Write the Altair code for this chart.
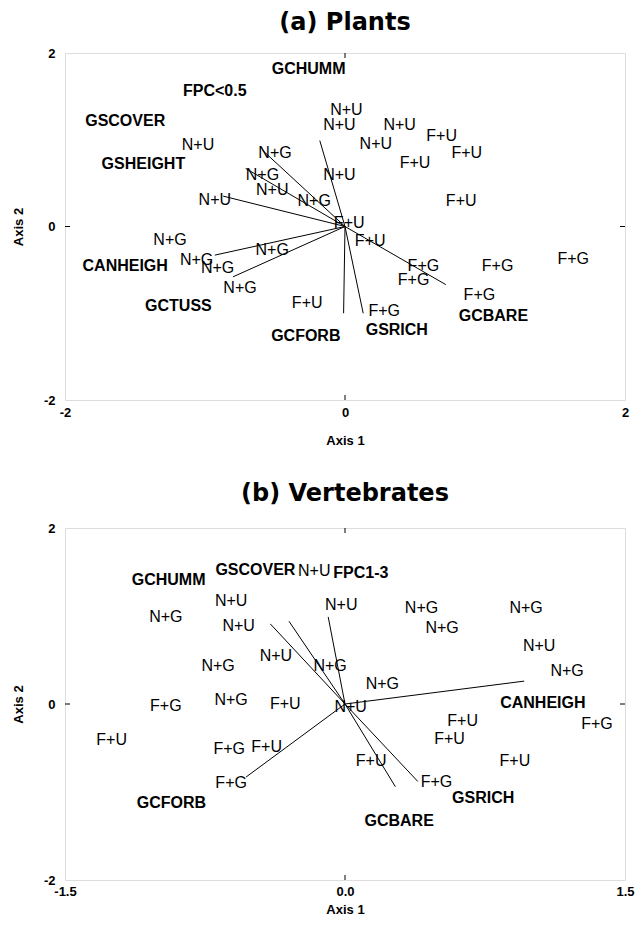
import altair as alt
import pandas as pd

# ---------------- (a) Plants ----------------
a_site_label = ["N+U", "N+U", "N+U", "N+U", "N+U", "F+U", "F+U", "F+U", "N+U", "F+U",
                "N+G", "N+G", "N+U", "N+U", "N+G", "F+U", "N+G", "N+G", "N+G", "N+G",
                "N+G", "F+U", "F+U", "F+G", "F+G", "F+G", "F+G", "F+G", "F+G"]
a_site_x = [-1.05, 0.01, -0.04, 0.39, 0.22, 0.69, 0.87, 0.50, -0.04, 0.83,
            -0.50, -0.59, -0.52, -0.93, -0.22, 0.03, -1.25, -1.06, -0.91, -0.52,
            -0.75, -0.27, 0.18, 0.56, 0.49, 1.09, 1.63, 0.96, 0.28]
a_site_y = [0.94, 1.34, 1.17, 1.17, 0.95, 1.04, 0.85, 0.73, 0.59, 0.29,
            0.85, 0.59, 0.42, 0.31, 0.29, 0.04, -0.16, -0.39, -0.48, -0.27,
            -0.71, -0.88, -0.17, -0.46, -0.62, -0.46, -0.37, -0.79, -0.97]

a_var_label = ["GCHUMM", "FPC<0.5", "GSCOVER", "GSHEIGHT", "CANHEIGH",
               "GCTUSS", "GCFORB", "GSRICH", "GCBARE"]
a_var_x = [-0.26, -0.93, -1.57, -1.44, -1.57, -1.19, -0.28, 0.37, 1.06]
a_var_y = [1.81, 1.56, 1.22, 0.72, -0.46, -0.92, -1.26, -1.19, -1.03]
a_vec_x = [-0.18, -0.59, -0.71, -0.87, -0.93, -0.80, -0.01, 0.13, 0.72]
a_vec_y = [0.99, 0.88, 0.67, 0.35, -0.33, -0.58, -1.00, -1.00, -0.67]

# ---------------- (b) Vertebrates ----------------
b_site_label = ["N+U", "N+G", "N+U", "N+U", "N+U", "N+U", "N+G", "N+G", "N+G", "N+G",
                "N+G", "N+U", "N+G", "N+G", "N+G", "F+U", "N+U", "F+G", "F+U", "F+G",
                "F+U", "F+G", "F+G", "F+U", "F+U", "F+U", "F+U", "F+G"]
b_site_x = [-0.165, -0.96, -0.61, -0.57, -0.02, -0.37, -0.68, -0.08, 0.41, 0.52,
            0.97, 1.04, 1.19, 0.20, -0.61, -0.32, 0.03, -0.96, -1.25, -0.62,
            -0.42, -0.61, 1.35, 0.63, 0.56, 0.91, 0.14, 0.49]
b_site_y = [1.51, 0.99, 1.17, 0.89, 1.12, 0.54, 0.43, 0.43, 1.09, 0.86,
            1.09, 0.66, 0.37, 0.23, 0.05, 0.00, -0.03, -0.02, -0.41, -0.51,
            -0.49, -0.90, -0.23, -0.19, -0.40, -0.65, -0.65, -0.89]

b_var_label = ["GCHUMM", "GSCOVER", "FPC1-3", "CANHEIGH", "GCFORB", "GSRICH", "GCBARE"]
b_var_x = [-0.945, -0.48, 0.085, 1.06, -0.93, 0.74, 0.29]
b_var_y = [1.41, 1.52, 1.49, 0.01, -1.12, -1.07, -1.33]
b_vec_x = [-0.40, -0.30, -0.09, 0.96, -0.53, 0.39, 0.27]
b_vec_y = [0.91, 0.94, 0.99, 0.26, -0.83, -0.88, -0.94]

FONT = "Liberation Sans"
W = 560


def panel(title, site_label, site_x, site_y, var_label, var_x, var_y, vec_x, vec_y,
          xdom, xticks, xfmt, h, xlabel_pad, xtitle_pad, title_offset):
    sites = pd.DataFrame({"label": site_label, "x": site_x, "y": site_y})
    vars_ = pd.DataFrame({"label": var_label, "x": var_x, "y": var_y})
    vecs = pd.DataFrame({"x0": [0.0] * len(vec_x), "y0": [0.0] * len(vec_y),
                         "x1": vec_x, "y1": vec_y})
    zero = pd.DataFrame({"z": [0.0]})

    xs = alt.Scale(domain=xdom, nice=False, zero=False)
    ys = alt.Scale(domain=[-2, 2], nice=False, zero=False)
    xaxis = alt.Axis(values=xticks, title="Axis 1", grid=False, ticks=False, domain=False,
                     labelFlush=False, labelFont=FONT, labelFontWeight="bold",
                     labelFontSize=13, labelColor="black", labelPadding=xlabel_pad,
                     titleFont=FONT, titleFontWeight="bold", titleFontSize=13,
                     titleColor="black", titlePadding=xtitle_pad,
                     labelExpr="replace(format(datum.value, '" + xfmt + "'), '\u2212', '-')")
    yaxis = alt.Axis(values=[-2, 0, 2], title="Axis 2", grid=False, ticks=False, domain=False,
                     labelFlush=False, labelFont=FONT, labelFontWeight="bold",
                     labelFontSize=13, labelColor="black", labelPadding=10,
                     titleFont=FONT, titleFontWeight="bold", titleFontSize=13,
                     titleColor="black", titlePadding=18,
                     labelExpr="replace(format(datum.value, 'd'), '\u2212', '-')")

    rules = alt.Chart(vecs).mark_rule(color="black", strokeWidth=1).encode(
        x=alt.X("x0:Q", scale=xs, axis=xaxis),
        y=alt.Y("y0:Q", scale=ys, axis=yaxis),
        x2="x1:Q", y2="y1:Q")
    site_text = alt.Chart(sites).mark_text(font=FONT, fontSize=16, color="black",
                                           align="center", baseline="middle").encode(
        x=alt.X("x:Q", scale=xs), y=alt.Y("y:Q", scale=ys), text="label:N")
    var_text = alt.Chart(vars_).mark_text(font=FONT, fontSize=16, fontWeight="bold",
                                          color="black", align="center",
                                          baseline="middle").encode(
        x=alt.X("x:Q", scale=xs), y=alt.Y("y:Q", scale=ys), text="label:N")
    tb = alt.Chart(zero).mark_rule(color="black").encode(
        x=alt.X("z:Q", scale=xs), y=alt.value(h), y2=alt.value(h - 5))
    tt = alt.Chart(zero).mark_rule(color="black").encode(
        x=alt.X("z:Q", scale=xs), y=alt.value(0), y2=alt.value(5))
    tl = alt.Chart(zero).mark_rule(color="black").encode(
        y=alt.Y("z:Q", scale=ys), x=alt.value(0), x2=alt.value(5))
    tr = alt.Chart(zero).mark_rule(color="black").encode(
        y=alt.Y("z:Q", scale=ys), x=alt.value(W), x2=alt.value(W - 5))

    return alt.layer(rules, site_text, var_text, tb, tt, tl, tr).properties(
        width=W, height=h,
        title=alt.TitleParams(title, font="DejaVu Sans", fontSize=24, fontWeight="bold",
                              color="black", anchor="middle", offset=title_offset))


top = panel("(a) Plants", a_site_label, a_site_x, a_site_y, a_var_label, a_var_x, a_var_y,
            a_vec_x, a_vec_y, [-2, 2], [-2, 0, 2], "d", 347, 6, 15, 12)
bottom = panel("(b) Vertebrates", b_site_label, b_site_x, b_site_y, b_var_label, b_var_x,
               b_var_y, b_vec_x, b_vec_y, [-1.5, 1.5], [-1.5, 0, 1.5], ".1f", 352, 5, 5, 16)

chart = alt.vconcat(top, bottom, spacing=33).properties(
    padding={"left": 3, "top": 2, "right": 0, "bottom": 0}
).configure_view(stroke="black", strokeWidth=1.5).configure(background="white")

chart.save("out.html", embed_options={"renderer": "svg", "actions": False})
